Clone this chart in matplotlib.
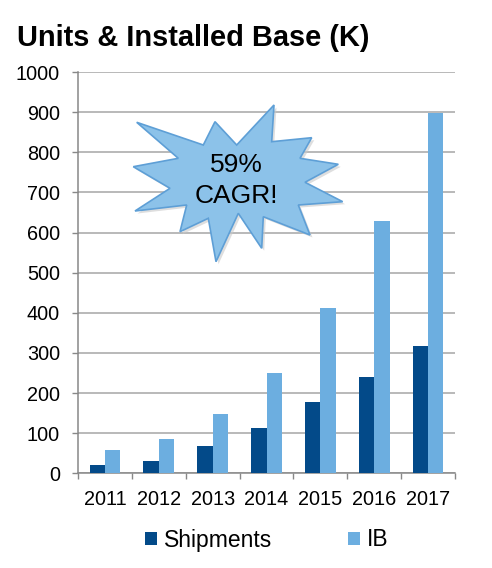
import matplotlib

matplotlib.use("Agg")
import matplotlib.pyplot as plt
import numpy as np
from matplotlib.patches import Polygon

years = ["2011", "2012", "2013", "2014", "2015", "2016", "2017"]
shipments = [20, 31, 68, 113, 178, 241, 316]
installed_base = [57, 86, 147, 251, 413, 628, 898]
y_ticks = [0, 100, 200, 300, 400, 500, 600, 700, 800, 900, 1000]

# starburst outline in figure pixels (x right, y down), outer/inner alternating
burst_px = [
    (136.7, 122.3), (203.3, 145.0), (215.0, 121.7), (236.7, 145.0),
    (274.0, 105.0), (271.7, 141.7), (311.7, 137.7), (300.0, 158.3),
    (338.3, 164.3), (305.0, 182.3), (342.7, 201.7), (298.3, 205.0),
    (310.0, 235.0), (263.3, 216.7), (261.7, 248.3), (238.3, 213.3),
    (216.0, 261.7), (208.3, 218.3), (180.0, 231.7), (186.7, 205.0),
    (135.0, 211.0), (170.0, 188.3), (133.3, 166.7), (178.3, 158.3),
]

W, H = 492, 568
DARK = "#034a89"
LIGHT = "#6caee0"
GRID = "#a6a6a6"

plt.rcParams["font.family"] = ["Liberation Sans", "DejaVu Sans"]
fig = plt.figure(figsize=(W / 100, H / 100), dpi=100)
ax = fig.add_axes([78 / W, 1 - 473.3 / H, (455 - 78) / W, (473.3 - 72) / H])

x = np.arange(len(years))
bw = 0.284
ax.bar(x - bw / 2, shipments, bw, color=DARK, label="Shipments", zorder=3)
ax.bar(x + bw / 2, installed_base, bw, color=LIGHT, label="IB", zorder=3)

ax.set_xlim(-0.5, len(years) - 0.5)
ax.set_ylim(0, 1000)
ax.set_yticks(y_ticks)
ax.set_yticklabels([str(v) for v in y_ticks], fontsize=14.3)
ax.yaxis.grid(True, color=GRID, linewidth=1.1, zorder=0)

ax.set_xticks(np.arange(len(years) + 1) - 0.5)
ax.set_xticklabels([])
ax.set_xticks(x, minor=True)
ax.set_xticklabels(years, minor=True, fontsize=14.3)
ax.tick_params(axis="x", which="minor", length=0, pad=12)
ax.tick_params(axis="x", which="major", length=4.3, color="#888888", width=1)
ax.tick_params(axis="y", length=4.3, color="#888888", width=1, pad=8.6)

for side in ("top", "right"):
    ax.spines[side].set_visible(False)
for side in ("left", "bottom"):
    ax.spines[side].set_color("#888888")
    ax.spines[side].set_linewidth(1.1)

fig.text(17 / W, 1 - 38 / H, "Units & Installed Base (K)", fontsize=20.9,
         fontweight="bold", ha="left", va="center")

# starburst callout
pts = np.array([(px / W, 1 - py / H) for px, py in burst_px])
shadow = Polygon(pts + np.array([2.5 / W, -2.5 / H]), closed=True,
                 transform=fig.transFigure, facecolor="#c8c8c8", edgecolor="none",
                 alpha=0.6, zorder=4)
burst = Polygon(pts, closed=True, transform=fig.transFigure,
                facecolor="#8cc2e9", edgecolor="#5e9fd6", linewidth=1.2, zorder=5)
fig.add_artist(shadow)
fig.add_artist(burst)
fig.text(236.7 / W, 1 - 165 / H, "59%", fontsize=19, ha="center", va="center", zorder=6)
fig.text(236.7 / W, 1 - 196 / H, "CAGR!", fontsize=19, ha="center", va="center", zorder=6)

leg = fig.legend(loc="center", bbox_to_anchor=(267 / W, 1 - 540 / H), ncol=2,
                 frameon=False, fontsize=16.5, handlelength=0.52, handleheight=0.52,
                 handletextpad=0.3, columnspacing=3.3)

fig.savefig("out.png", dpi=100, facecolor="white")
